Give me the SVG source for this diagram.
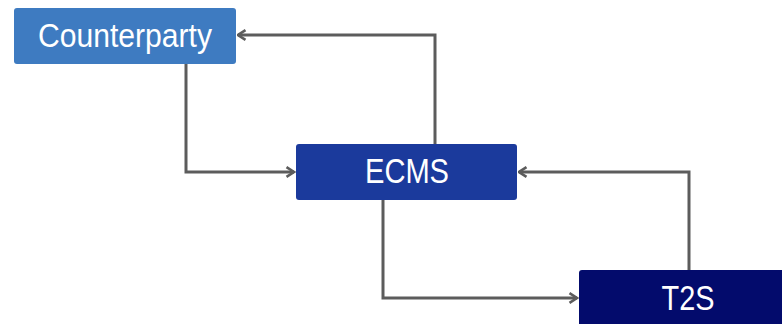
<svg xmlns="http://www.w3.org/2000/svg" width="782" height="324" viewBox="0 0 782 324">
<defs>
<marker id="arr" viewBox="0 0 12 12" refX="10.5" refY="6" markerWidth="12" markerHeight="12" markerUnits="userSpaceOnUse" orient="auto">
<path d="M3,1.2 L10.5,6 L3,10.8" fill="none" stroke="#5c5c5c" stroke-width="2.6"/>
</marker>
</defs>
<style>
.lbl{font-family:"Liberation Sans",Arial,sans-serif;fill:#ffffff;text-anchor:middle}
.conn{fill:none;stroke:#5c5c5c;stroke-width:3;marker-end:url(#arr)}
</style>
<rect width="782" height="324" fill="#ffffff"/>
<g id="connectors">
<path class="conn" d="M435,144 V35 H238"/>
<path class="conn" d="M186,64 V172 H294"/>
<path class="conn" d="M383,200 V298 H577"/>
<path class="conn" d="M689,270 V172 H519"/>
</g>
<g id="counterparty">
<rect x="14" y="8" width="222" height="56" rx="3" fill="#3e7bc1"/>
<text class="lbl" x="125" y="47" font-size="34" textLength="174" lengthAdjust="spacingAndGlyphs">Counterparty</text>
</g>
<g id="ecms">
<rect x="296" y="144" width="221" height="56" rx="3" fill="#1b3a9c"/>
<text class="lbl" x="407" y="183" font-size="35" textLength="84" lengthAdjust="spacingAndGlyphs">ECMS</text>
</g>
<g id="t2s">
<rect x="579" y="270" width="206" height="58" rx="3" fill="#030b6c"/>
<text class="lbl" x="688" y="310" font-size="35" textLength="53" lengthAdjust="spacingAndGlyphs">T2S</text>
</g>
</svg>
